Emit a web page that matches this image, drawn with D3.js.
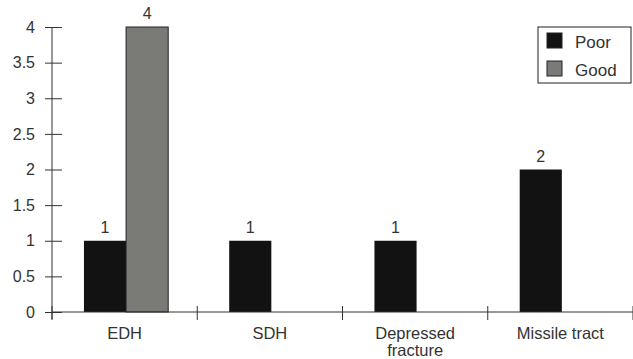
<!DOCTYPE html>
<html><head><meta charset="utf-8">
<script src="https://cdn.jsdelivr.net/npm/d3@7"></script>
<style>body{margin:0;background:#fff}svg{display:block}text{font-family:"Liberation Sans",Arial,sans-serif;fill:#333}</style>
</head><body><svg id="c" width="633" height="359"></svg>
<script>
const categories = ["EDH", "SDH", "Depressed fracture", "Missile tract"];
const seriesNames = ["Poor", "Good"];
const poor = [1, 1, 1, 2];
const good = [4, 0, 0, 0];
const yTicks = [0, 0.5, 1, 1.5, 2, 2.5, 3, 3.5, 4];
const colors = ["#121212", "#7a7a76"];

const FS = 16, FC = 16.5;
const svg = d3.select("#c");
const x0 = 52, x1 = 633, yBase = 312, yTop = 27;
const x = d3.scaleBand().domain(categories).range([x0, x1]);
const sub = d3.scaleBand().domain(seriesNames).range([x.bandwidth()*0.22, x.bandwidth()*0.8]);
const y = d3.scaleLinear().domain([0, 4]).range([yBase, yTop]);

// y axis
const ya = svg.append("g").attr("transform", `translate(${x0},0)`)
  .call(d3.axisLeft(y).tickValues(yTicks).tickFormat(d3.format("")).tickSize(7).tickPadding(10));
ya.selectAll(".tick line").attr("x2", -7).attr("x1", 10);
ya.selectAll("line,path").attr("stroke", "#333");
ya.selectAll("text").attr("font-size", FS).attr("fill", "#333").attr("font-family", '"Liberation Sans",Arial,sans-serif');
ya.select(".domain").attr("d", `M0,${yBase+7}V${yTop}`);

// bars
const data = categories.map((c, i) => ({c, vals: [{s: "Poor", v: poor[i]}, {s: "Good", v: good[i]}]}));
const g = svg.append("g");
data.forEach(d => {
  d.vals.forEach((e, j) => {
    if (e.v <= 0) return;
    g.append("rect")
      .attr("x", x(d.c) + sub(e.s))
      .attr("width", sub.bandwidth())
      .attr("y", y(e.v))
      .attr("height", yBase - y(e.v))
      .attr("fill", colors[j])
      .attr("stroke", j === 1 ? "#222" : "none").attr("stroke-width", 1);
    g.append("text")
      .attr("x", x(d.c) + sub(e.s) + sub.bandwidth()/2)
      .attr("y", y(e.v) - 8)
      .attr("text-anchor", "middle").attr("font-size", FS)
      .text(e.v);
  });
});

// x axis
const xa = svg.append("g").attr("transform", `translate(0,${yBase})`);
xa.append("line").attr("x1", x0).attr("x2", x1).attr("stroke", "#333");
const bounds = categories.map(c => x(c) + x.bandwidth()).concat([x0]);
xa.selectAll(".tk").data(bounds).join("line").attr("class", "tk")
  .attr("x1", d => d).attr("x2", d => d).attr("y1", -6).attr("y2", 8).attr("stroke", "#333");
categories.forEach(c => {
  const words = c === "Depressed fracture" ? ["Depressed", "fracture"] : [c];
  words.forEach((w, i) => xa.append("text")
    .attr("x", x(c) + x.bandwidth()/2).attr("y", 27 + i * 16.5)
    .attr("text-anchor", "middle").attr("font-size", FC).text(w));
});

// legend
const lg = svg.append("g").attr("transform", "translate(538,27)");
lg.append("rect").attr("width", 93).attr("height", 56).attr("fill", "#fff").attr("stroke", "#222");
seriesNames.forEach((s, i) => {
  lg.append("rect").attr("x", 9).attr("y", 6 + i*28).attr("width", 15).attr("height", 15)
    .attr("fill", colors[i]).attr("stroke", "#222");
  lg.append("text").attr("x", 37).attr("y", 21 + i*28).attr("font-size", 17).text(s);
});
</script></body></html>
